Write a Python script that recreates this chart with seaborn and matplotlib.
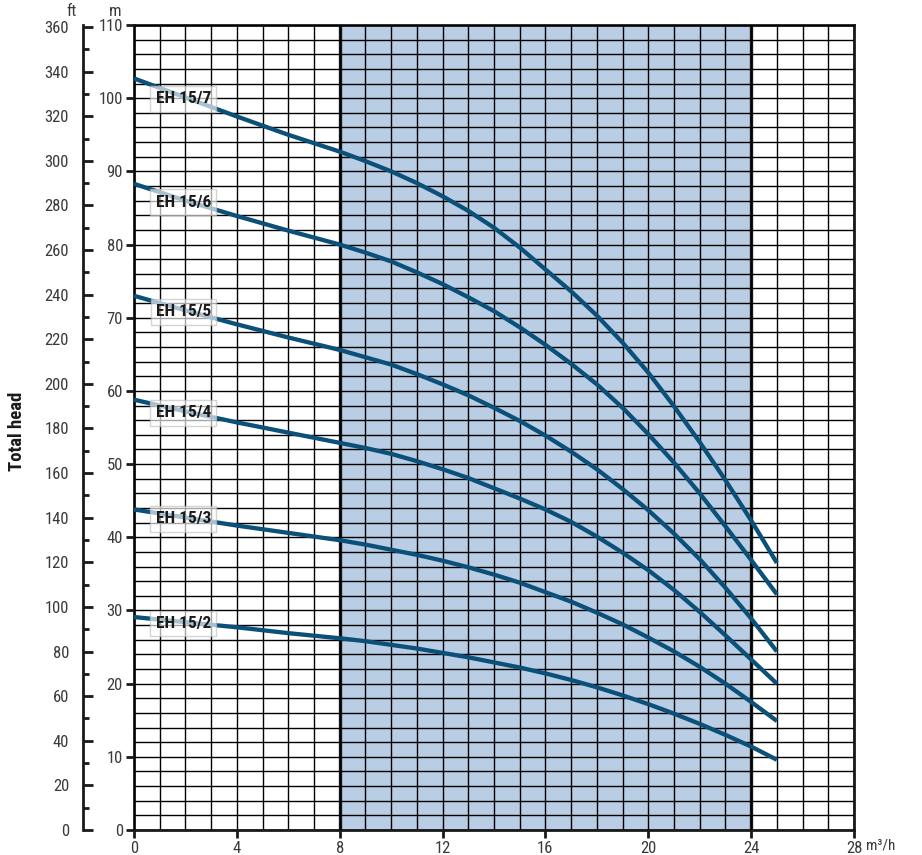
import matplotlib
matplotlib.use("Agg")
import matplotlib.pyplot as plt
from matplotlib.ticker import MultipleLocator
import seaborn as sns
import pandas as pd

# ---------------- data ----------------
flow = [0, 2, 4, 6, 8, 9, 10, 11, 12, 13, 14, 15, 16, 17, 18, 19, 20, 21, 22, 23, 24, 25]
eh15_7 = [102.7, 100.1, 97.5, 95.0, 92.7, 91.4, 90.0, 88.4, 86.6, 84.6, 82.3, 79.6, 76.6, 73.6, 70.3, 66.6, 62.5, 57.9, 53.0, 47.8, 42.3, 36.5]
eh15_6 = [88.3, 86.0, 83.9, 81.9, 80.0, 78.9, 77.7, 76.2, 74.6, 72.8, 70.9, 68.7, 66.3, 63.7, 60.9, 57.7, 54.1, 50.2, 46.0, 41.5, 36.9, 32.2]
eh15_5 = [73.0, 71.0, 69.1, 67.3, 65.6, 64.6, 63.6, 62.3, 60.9, 59.4, 57.7, 55.9, 53.9, 51.7, 49.3, 46.6, 43.7, 40.5, 37.0, 33.1, 28.9, 24.4]
eh15_4 = [58.8, 57.2, 55.7, 54.3, 52.9, 52.2, 51.4, 50.4, 49.3, 48.1, 46.7, 45.3, 43.8, 42.1, 40.1, 37.9, 35.5, 32.8, 29.8, 26.6, 23.3, 20.0]
eh15_3 = [43.8, 42.7, 41.6, 40.6, 39.6, 39.0, 38.3, 37.6, 36.8, 35.9, 34.9, 33.8, 32.5, 31.2, 29.7, 28.1, 26.3, 24.4, 22.3, 20.0, 17.5, 14.9]
eh15_2 = [29.1, 28.4, 27.7, 26.9, 26.2, 25.8, 25.3, 24.8, 24.2, 23.6, 22.9, 22.2, 21.4, 20.5, 19.5, 18.4, 17.2, 15.9, 14.5, 13.0, 11.4, 9.6]
models = ["EH 15/7", "EH 15/6", "EH 15/5", "EH 15/4", "EH 15/3", "EH 15/2"]
heads = [eh15_7, eh15_6, eh15_5, eh15_4, eh15_3, eh15_2]
x_ticks = [0, 4, 8, 12, 16, 20, 24, 28]
m_ticks = list(range(0, 111, 10))
ft_ticks = list(range(0, 361, 20))
band = (8, 24)

# ---------------- style ----------------
sns.set_theme(style="white")
plt.rcParams["font.family"] = ["Roboto Condensed", "Roboto", "DejaVu Sans"]
plt.rcParams["axes.unicode_minus"] = False

LINE = "#0b5078"
SHADE = "#b9cde4"
TXT = "#3a3a3a"
FS = 12

fig = plt.figure(figsize=(9.22, 8.55), dpi=100)
W, H = 922, 855
ax = fig.add_axes([134 / W, (H - 830) / H, (854 - 134) / W, (830 - 25) / H])

df = pd.DataFrame({"flow": flow * len(models),
                   "head": sum(heads, []),
                   "model": sum([[m] * len(flow) for m in models], [])})

ax.axvspan(band[0], band[1], color=SHADE, zorder=0, lw=0)

ax.set_xlim(0, 28)
ax.set_ylim(0, 110)
ax.xaxis.set_minor_locator(MultipleLocator(1))
ax.yaxis.set_minor_locator(MultipleLocator(2))
ax.set_xticks(x_ticks)
ax.set_yticks(m_ticks)
ax.grid(True, which="both", color="black", lw=1.0, zorder=1)
ax.set_axisbelow(False)
for b in band:
    ax.axvline(b, color="#1a1a1a", lw=2.4, zorder=2)

sns.lineplot(data=df, x="flow", y="head", hue="model", palette=[LINE] * len(models),
             sort=False, legend=False, lw=3.1, ax=ax, zorder=5)
for ln in ax.get_lines()[-len(models):]:
    ln.set_solid_capstyle("butt")
    ln.set_solid_joinstyle("round")

for name, h in zip(models, heads):
    ax.text(1.92, h[1] - 0.2, name, ha="center", va="center", fontsize=12.5, fontweight="bold",
            color="#1a1a1a", zorder=6,
            bbox=dict(boxstyle="square,pad=0.3", fc="white", ec="#bdbdbd", lw=1, alpha=0.65))

for s in ax.spines.values():
    s.set_color("#1a1a1a")
    s.set_linewidth(2)
ax.tick_params(axis="both", which="major", direction="out", length=6, width=2,
               color="#1a1a1a", labelsize=FS, labelcolor=TXT, pad=2, left=True, bottom=True)
ax.tick_params(axis="both", which="minor", length=0)
ax.set_xlabel("")
ax.set_ylabel("")

# feet axis
sec = ax.secondary_yaxis(-51 / 720, functions=(lambda m: m * 3.28084, lambda f: f / 3.28084))
sec.set_yticks(ft_ticks)
sec.yaxis.set_minor_locator(MultipleLocator(10))
sec.yaxis.set_ticks_position("left")
sec.spines["left"].set_linewidth(2)
sec.spines["left"].set_color("#1a1a1a")
sec.tick_params(axis="y", which="major", direction="in", length=7, width=2, color="#1a1a1a",
                labelsize=FS, labelcolor=TXT, pad=10)
sec.tick_params(axis="y", which="minor", direction="in", length=4, width=2, color="#1a1a1a")

fig.text(72 / W, 1 - 11 / H, "ft", ha="center", va="center", fontsize=FS, color=TXT)
fig.text(115 / W, 1 - 11 / H, "m", ha="center", va="center", fontsize=FS, color=TXT)
fig.text(881 / W, 1 - 845 / H, "m³/h", ha="center", va="center", fontsize=11, color=TXT)
fig.text(17 / W, 1 - 431 / H, "Total head", ha="center", va="center", rotation=90,
         fontsize=13.5, fontweight="bold", color="#1a1a1a")

fig.savefig("out.png", dpi=100)
